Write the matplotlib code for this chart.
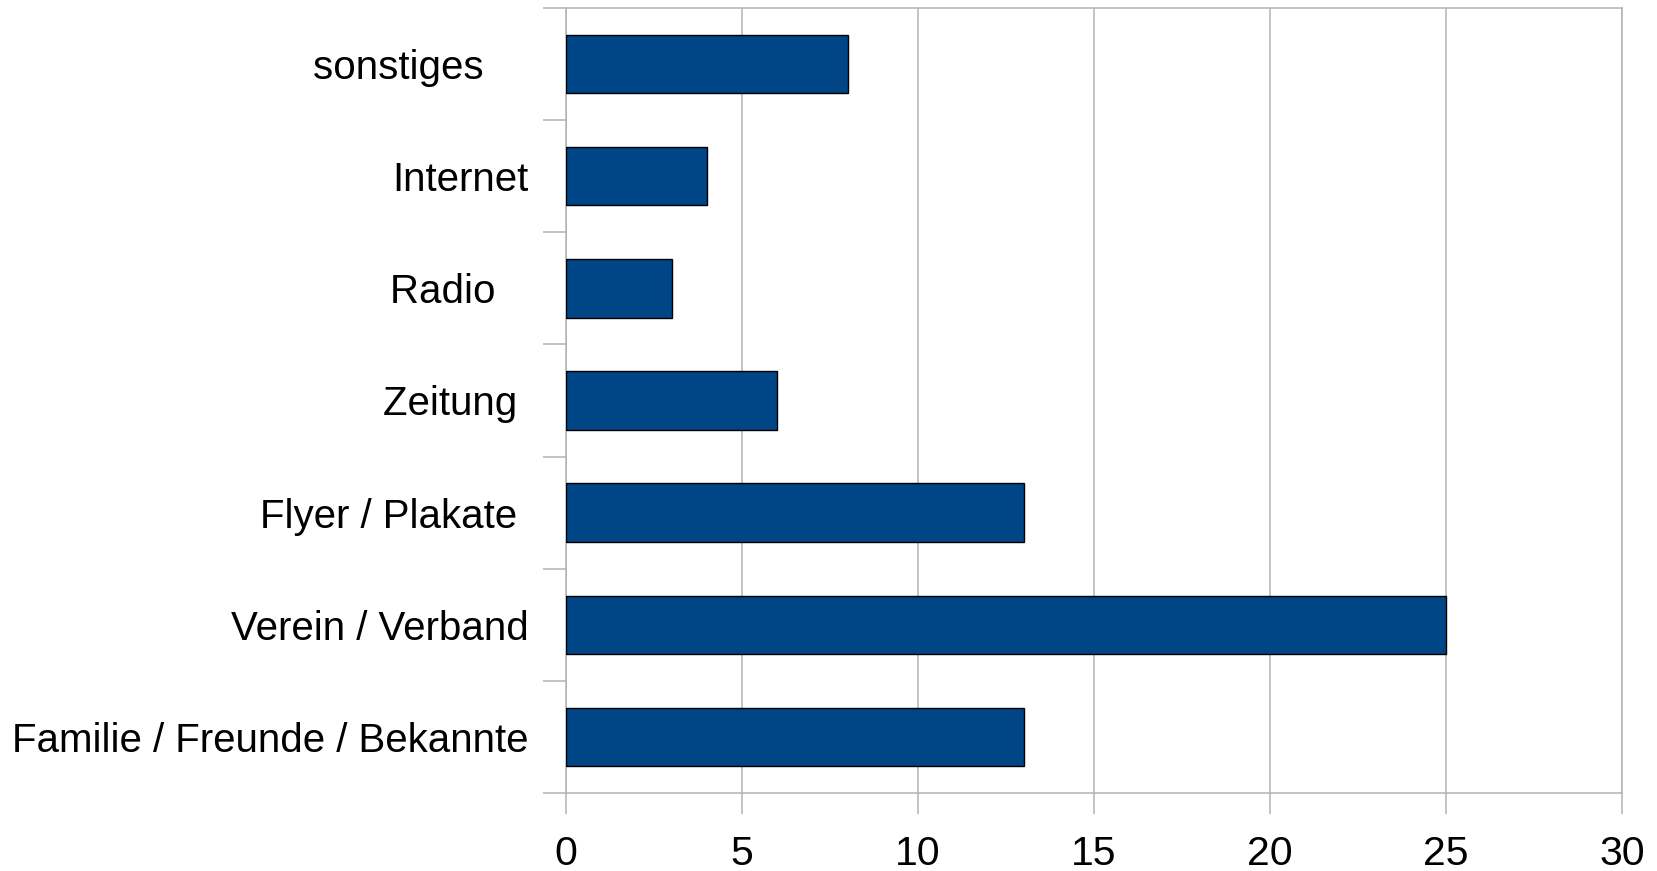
import matplotlib.pyplot as plt
import numpy as np

# Kategorien (von unten nach oben) und Anzahl der Nennungen
kategorien = ['Familie / Freunde / Bekannte', 'Verein / Verband', 'Flyer / Plakate ',
              'Zeitung ', 'Radio   ', 'Internet', 'sonstiges    ']
werte = [13, 25, 13, 6, 3, 4, 8]
x_ticks = [0, 5, 10, 15, 20, 25, 30]

plt.rcParams['font.family'] = ['Liberation Sans', 'DejaVu Sans']

grau = '#b3b3b3'
fig = plt.figure(figsize=(16.57, 8.71), dpi=100)
ax = fig.add_axes([0.3416, 0.0896, 0.9789 - 0.3416, 0.9908 - 0.0896])

y = np.arange(len(kategorien))
ax.barh(y, werte, height=0.52, color='#004586', edgecolor='black', linewidth=1.0, zorder=3)

ax.set_xlim(0, 30)
ax.set_ylim(-0.5, len(kategorien) - 0.5)

# vertikale Gitterlinien
ax.set_xticks(x_ticks)
ax.xaxis.grid(True, color=grau, linewidth=1.1, zorder=0)
ax.set_axisbelow(True)

for s in ax.spines.values():
    s.set_color(grau)
    s.set_linewidth(1.1)

ax.tick_params(axis='x', length=15, width=1.1, color=grau, labelsize=29.5, pad=15)

# Kategorienamen ohne Tick, Trennstriche als Minor-Ticks
ax.set_yticks(y)
ax.set_yticklabels(kategorien)
ax.set_yticks(np.arange(-0.5, len(kategorien)), minor=True)
ax.tick_params(axis='y', which='major', length=0, labelsize=29, pad=27)
ax.tick_params(axis='y', which='minor', length=16.5, width=1.1, color=grau)

fig.savefig('out.png', dpi=100)
